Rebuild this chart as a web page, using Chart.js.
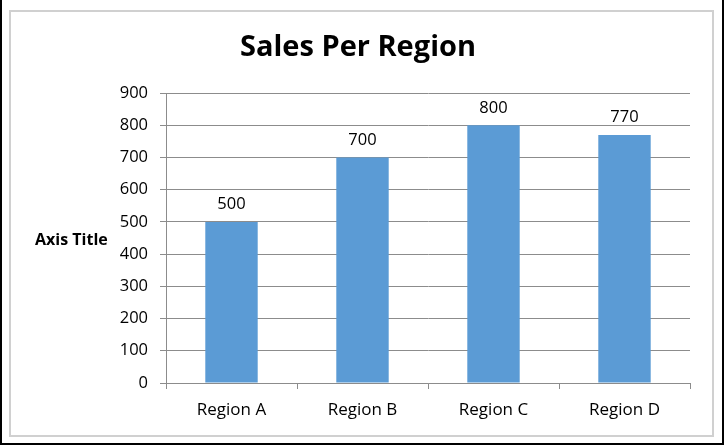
<!DOCTYPE html>
<html>
<head>
<meta charset="utf-8">
<script src="https://cdn.jsdelivr.net/npm/chart.js@4"></script>
<style>
  body { margin: 0; background: #fff; }
  #wrap { position: relative; width: 724px; height: 445px; }
  #wrap canvas { position: absolute; left: 0; top: 0; }
</style>
</head>
<body>
<div id="wrap"><canvas id="myChart" width="724" height="445"></canvas></div>
<script>
var regions = ["Region A", "Region B", "Region C", "Region D"];
var sales = [500, 700, 800, 770];
var yTicks = [0, 100, 200, 300, 400, 500, 600, 700, 800, 900];

var font = "'Open Sans', Lato, sans-serif";

// frame, title, axis title and value labels
var extras = {
  id: 'extras',
  beforeDraw: function(chart) {
    var c = chart.ctx;
    c.save();
    c.fillStyle = '#fff';
    c.fillRect(0, 0, 724, 445);
    c.strokeStyle = '#000';
    c.lineWidth = 4;
    c.strokeRect(0, -2, 724, 447);
    c.strokeStyle = '#d0d0d0';
    c.lineWidth = 2;
    c.strokeRect(10, 11, 703, 425);
    c.restore();
  },
  afterDraw: function(chart) {
    var c = chart.ctx;
    var area = chart.chartArea;
    c.save();
    c.fillStyle = '#000';
    c.textAlign = 'center';
    c.textBaseline = 'middle';
    c.font = 'bold 29px ' + font;
    c.fillText('Sales Per Region', 358, 48);
    c.font = 'bold 16px ' + font;
    c.textAlign = 'left';
    c.fillText('Axis Title', 35, (area.top + area.bottom) / 2 + 2);
    c.font = '16.5px ' + font;
    c.textAlign = 'center';
    c.textBaseline = 'bottom';
    chart.getDatasetMeta(0).data.forEach(function(bar, i) {
      c.fillText(String(sales[i]), bar.x, bar.y - 9);
    });
    c.restore();
  }
};

var ctx = document.getElementById("myChart");
var myChart = new Chart(ctx, {
  type: 'bar',
  data: {
    labels: regions,
    datasets: [{
      data: sales,
      backgroundColor: "#5b9bd5",
      barPercentage: 0.4,
      categoryPercentage: 1.0
    }]
  },
  options: {
    responsive: false,
    animation: false,
    layout: { padding: { left: 0, right: 34, top: 93, bottom: 0 } },
    plugins: {
      legend: { display: false },
      tooltip: { enabled: false }
    },
    scales: {
      x: {
        afterFit: function(scale) { scale.height = 62; },
        grid: {
          offset: true,
          drawOnChartArea: false,
          drawTicks: true,
          tickLength: 6,
          color: '#8c8c8c'
        },
        border: { color: '#8c8c8c', width: 1 },
        ticks: {
          color: '#000',
          padding: 11,
          font: { family: font, size: 17 }
        }
      },
      y: {
        min: 0,
        max: 900,
        afterFit: function(scale) { scale.width = 166; },
        afterBuildTicks: function(scale) {
          scale.ticks = yTicks.map(function(v) { return { value: v }; });
        },
        grid: {
          color: '#8c8c8c',
          tickLength: 6
        },
        border: { color: '#8c8c8c', width: 1 },
        ticks: {
          color: '#000',
          padding: 12,
          font: { family: font, size: 16.5 }
        }
      }
    }
  },
  plugins: [extras]
});
</script>
</body>
</html>
